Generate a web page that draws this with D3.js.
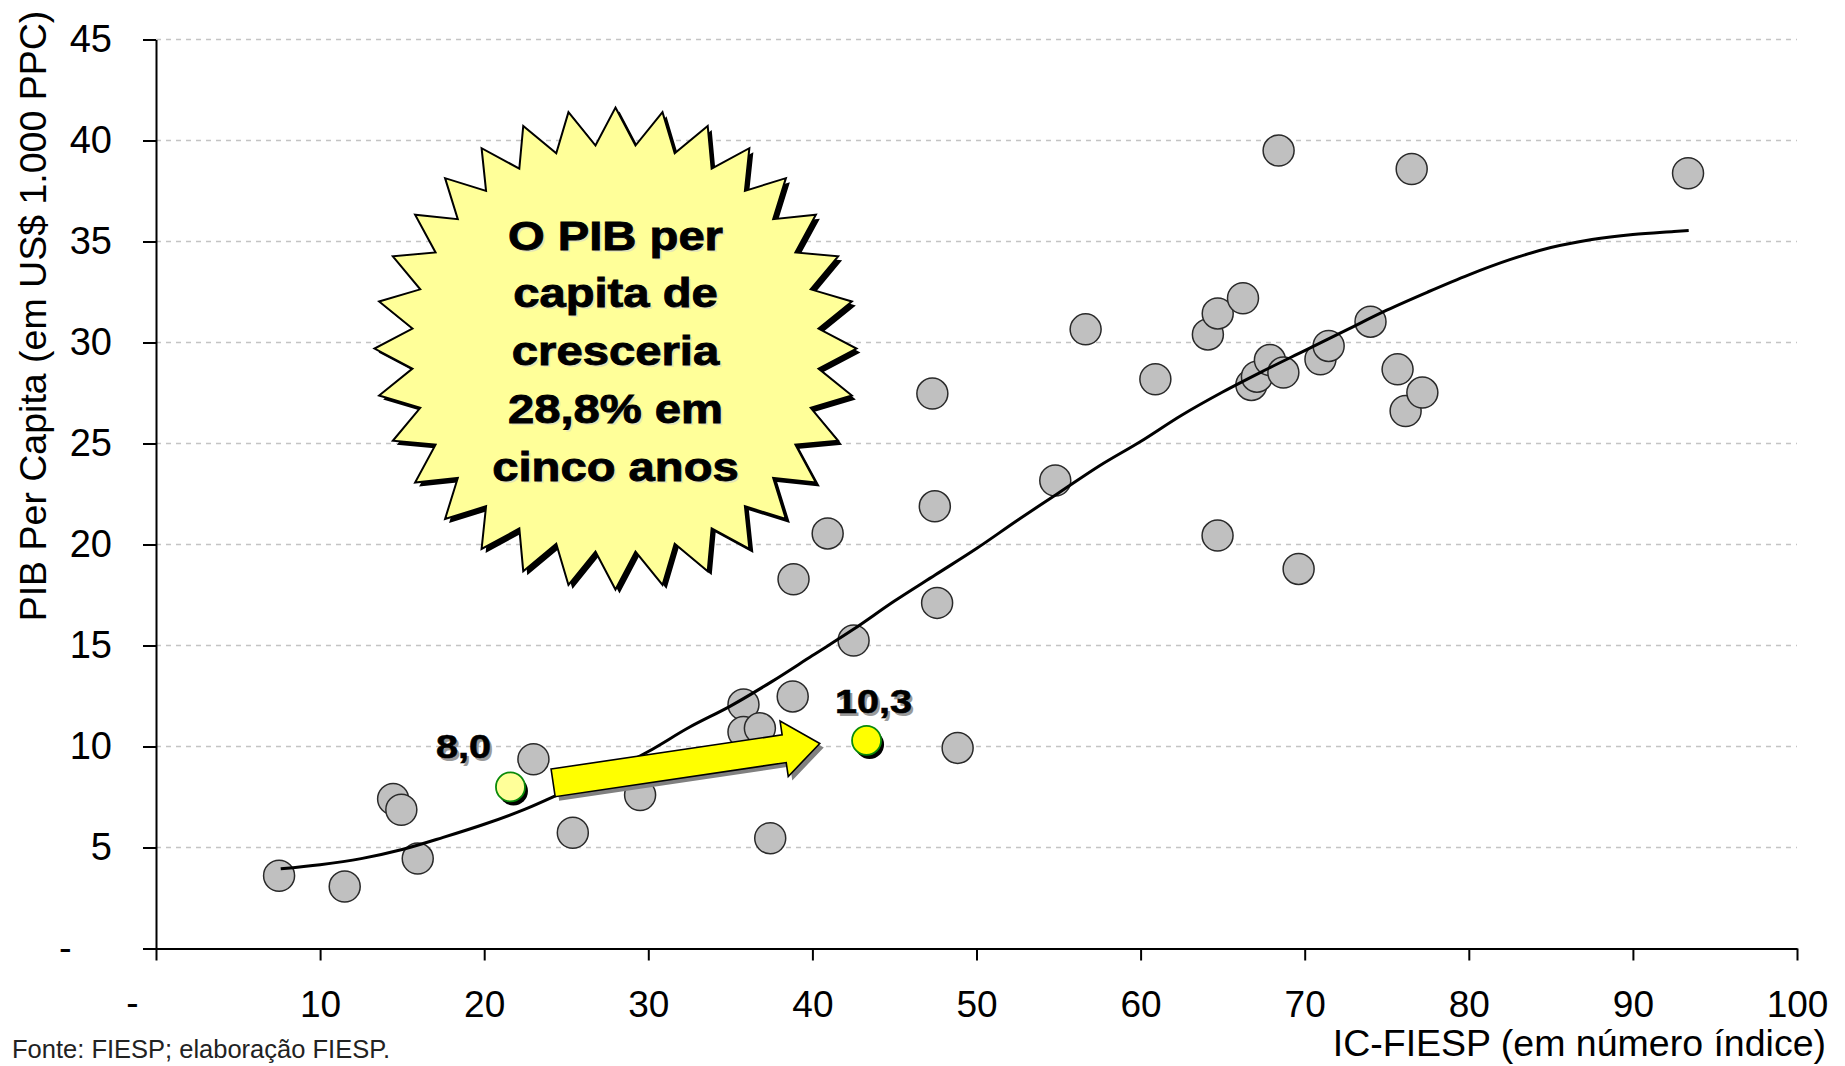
<!DOCTYPE html>
<html><head><meta charset="utf-8">
<script src="https://cdn.jsdelivr.net/npm/d3@7"></script>
<style>
body{margin:0;background:#fff}
svg{display:block}
text{font-family:"Liberation Sans",Arial,Helvetica,sans-serif}
</style>
</head><body>
<svg id="chart" width="1845" height="1066"></svg>
<script>
// ---------- data ----------
const xTicks = [0,10,20,30,40,50,60,70,80,90,100];
const yTicks = [0,5,10,15,20,25,30,35,40,45];

const ptX = [7.5,11.5,14.45,14.95,15.95,23.0,25.4,29.5,35.8,35.8,36.8,37.43,38.8,38.85,40.93,42.51,
             47.31,47.46,47.6,48.85,54.8,56.65,60.9,64.1,64.7,64.69,66.24,66.75,67.09,67.88,68.41,68.7,
             69.63,70.96,71.46,74.01,75.66,76.15,76.52,77.17,93.36];
const ptY = [3.6,3.07,7.4,6.87,4.45,9.37,5.73,7.6,12.08,10.72,10.9,5.46,12.48,18.28,20.55,15.25,
             27.47,21.89,17.11,9.93,23.17,30.65,28.18,30.4,31.44,20.44,32.19,27.9,28.31,29.13,39.5,28.51,
             18.79,29.17,29.83,31.03,28.67,26.61,38.59,27.52,38.38];

const trendX = [7.6,10,12.5,15,17.5,20,22.5,25,27.5,30,32.5,35,37.5,40,42.5,45,47.5,50,52.5,55,57.5,
                60,62.5,65,67.5,70,72.5,75,77.5,80,82.5,85,87.5,90,92.5,93.4];
const trendY = [3.95,4.15,4.45,4.9,5.5,6.15,6.9,7.8,8.7,9.75,10.95,12.0,13.2,14.5,15.8,17.2,18.5,19.8,21.2,22.55,23.9,
                25.1,26.4,27.55,28.6,29.6,30.6,31.6,32.5,33.35,34.1,34.7,35.1,35.35,35.5,35.55];

const hiX = [21.6, 43.3];
const hiY = [8.0, 10.3];
const hiLabels = ["8,0", "10,3"];

const arrowFrom = [24.2, 8.2];
const arrowTo = [40.45, 10.15];

const bubbleCenter = [28.0, 29.7];
const bubbleLines = ["O PIB per", "capita de", "cresceria", "28,8% em", "cinco anos"];

const xTitle = "IC-FIESP (em número índice)";
const yTitle = "PIB Per Capita (em US$ 1.000 PPC)";
const sourceText = "Fonte: FIESP; elaboração FIESP.";

// ---------- chart ----------
const svg = d3.select("#chart");
svg.append("rect").attr("width",1845).attr("height",1066).attr("fill","#fff");

const x = d3.scaleLinear().domain([0,100]).range([156,1797]);
const y = d3.scaleLinear().domain([0,45]).range([948.5,39.5]);

// gridlines
svg.append("g").selectAll("line").data(yTicks.filter(d=>d>0)).join("line")
  .attr("x1", x(0)).attr("x2", x(100))
  .attr("y1", d=>y(d)).attr("y2", d=>y(d))
  .attr("stroke","#c4c4c4").attr("stroke-width",1.6).attr("stroke-dasharray","5,5");

// y axis
const yAxis = svg.append("g").attr("transform",`translate(${x(0)},0)`)
  .call(d3.axisLeft(y).tickValues(yTicks).tickSize(13).tickSizeOuter(0).tickPadding(31)
        .tickFormat(d=> d===0 ? "-" : d));
yAxis.select(".domain").attr("stroke","#000").attr("stroke-width",2);
yAxis.selectAll(".tick line").attr("stroke","#000").attr("stroke-width",2);
yAxis.selectAll(".tick text").attr("font-size",38).attr("fill","#000")
  .attr("font-family",'"Liberation Sans",Arial,sans-serif');
yAxis.selectAll(".tick text").filter(d=>d===0).attr("text-anchor","start").attr("x",-97);

// x axis
const xAxis = svg.append("g").attr("transform",`translate(0,${y(0)})`)
  .call(d3.axisBottom(x).tickValues(xTicks).tickSize(12).tickSizeOuter(0)
        .tickFormat(d=> d===0 ? "-" : d));
xAxis.select(".domain").attr("stroke","#000").attr("stroke-width",2);
xAxis.selectAll(".tick line").attr("stroke","#000").attr("stroke-width",2);
xAxis.selectAll(".tick text").attr("font-size",37).attr("fill","#000")
  .attr("font-family",'"Liberation Sans",Arial,sans-serif')
  .attr("y",68).attr("dy",0);
xAxis.selectAll(".tick text").filter(d=>d===0).attr("x",-24).attr("y",66);

// scatter points
svg.append("g").selectAll("circle").data(ptX.map((v,i)=>[v,ptY[i]])).join("circle")
  .attr("cx",d=>x(d[0])).attr("cy",d=>y(d[1])).attr("r",15.5)
  .attr("fill","#c0c0c0").attr("stroke","#2a2a2a").attr("stroke-width",1.5);

// trend line
svg.append("path")
  .datum(trendX.map((v,i)=>[v,trendY[i]]))
  .attr("d", d3.line().x(d=>x(d[0])).y(d=>y(d[1])).curve(d3.curveMonotoneX))
  .attr("fill","none").attr("stroke","#000").attr("stroke-width",3);

// arrow
(function(){
  const p0=[x(arrowFrom[0]),y(arrowFrom[1])], p1=[x(arrowTo[0]),y(arrowTo[1])];
  const L=Math.hypot(p1[0]-p0[0],p1[1]-p0[1]);
  const ang=Math.atan2(p1[1]-p0[1],p1[0]-p0[0])*180/Math.PI;
  const hw=14, hh=28, hl=36;
  const pts=[[0,-hw],[L-hl,-hw],[L-hl,-hh],[L,0],[L-hl,hh],[L-hl,hw],[0,hw]];
  const d="M"+pts.map(p=>p.join(",")).join("L")+"Z";
  svg.append("path").attr("d",d).attr("fill","#808080")
    .attr("transform",`translate(${p0[0]+4},${p0[1]+4}) rotate(${ang})`);
  svg.append("path").attr("d",d).attr("fill","#ffff00").attr("stroke","#000").attr("stroke-width",1.6)
    .attr("stroke-linejoin","miter")
    .attr("transform",`translate(${p0[0]},${p0[1]}) rotate(${ang})`);
})();

// highlighted points
const hi = hiX.map((v,i)=>({x:v,y:hiY[i],label:hiLabels[i],i}));
const hg = svg.append("g");
hg.selectAll("circle.sh").data(hi).join("circle").attr("class","sh")
  .attr("cx",d=>x(d.x)+3).attr("cy",d=>y(d.y)+4).attr("r",14.5).attr("fill","#000");
hg.selectAll("circle.pt").data(hi).join("circle").attr("class","pt")
  .attr("cx",d=>x(d.x)).attr("cy",d=>y(d.y)).attr("r",14.5)
  .attr("fill",d=>d.i===0?"#ffff99":"#ffff00").attr("stroke","#0a8a0a").attr("stroke-width",1.8);

// labels (stretched bold text)
const labelOff = [[-47,-29],[7,-27]];
hi.forEach(d=>{
  const lx=x(d.x)+labelOff[d.i][0], ly=y(d.y)+labelOff[d.i][1];
  svg.append("text").attr("transform",`translate(${lx+2.5},${ly+3}) scale(1.2,1)`)
    .attr("text-anchor","middle").attr("font-weight","bold").attr("font-size",33)
    .attr("fill","#9a9a9a").text(d.label);
  svg.append("text").attr("transform",`translate(${lx},${ly}) scale(1.2,1)`)
    .attr("text-anchor","middle").attr("font-weight","bold").attr("font-size",33)
    .attr("fill","#000").attr("stroke","#000").attr("stroke-width",0.6).text(d.label);
});

// starburst
(function(){
  const cx=x(bubbleCenter[0]), cy=y(bubbleCenter[1]);
  const n=32, ro=241, ri=204;
  const pts=[];
  for(let k=0;k<2*n;k++){
    const a=-Math.PI/2 + k*Math.PI/n;
    const r = k%2===0 ? ro : ri;
    pts.push([cx+r*Math.cos(a), cy+r*Math.sin(a)]);
  }
  const d="M"+pts.map(p=>p[0].toFixed(2)+","+p[1].toFixed(2)).join("L")+"Z";
  svg.append("path").attr("d",d).attr("fill","#000").attr("transform","translate(4,4)");
  svg.append("path").attr("d",d).attr("fill","#ffff99").attr("stroke","#000").attr("stroke-width",2)
    .attr("stroke-linejoin","miter");
  bubbleLines.forEach((t,i)=>{
    const by = cy - 99 + i*57.75;
    svg.append("text").attr("transform",`translate(${cx+2},${by+2}) scale(1.18,1)`)
      .attr("text-anchor","middle").attr("font-weight","bold").attr("font-size",40)
      .attr("fill","#e6e6b8").text(t);
    svg.append("text").attr("transform",`translate(${cx},${by}) scale(1.18,1)`)
      .attr("text-anchor","middle").attr("font-weight","bold").attr("font-size",40)
      .attr("fill","#000").attr("stroke","#000").attr("stroke-width",0.9).text(t);
  });
})();

// axis titles
svg.append("text").attr("transform","translate(46,316) rotate(-90)")
  .attr("text-anchor","middle").attr("font-size",37.5).attr("fill","#000").text(yTitle);
svg.append("text").attr("x",1826).attr("y",1056)
  .attr("text-anchor","end").attr("font-size",37.5).attr("fill","#000").text(xTitle);

// source
svg.append("text").attr("x",12).attr("y",1058)
  .attr("font-size",25.5).attr("fill","#222").text(sourceText);
</script>
</body></html>
